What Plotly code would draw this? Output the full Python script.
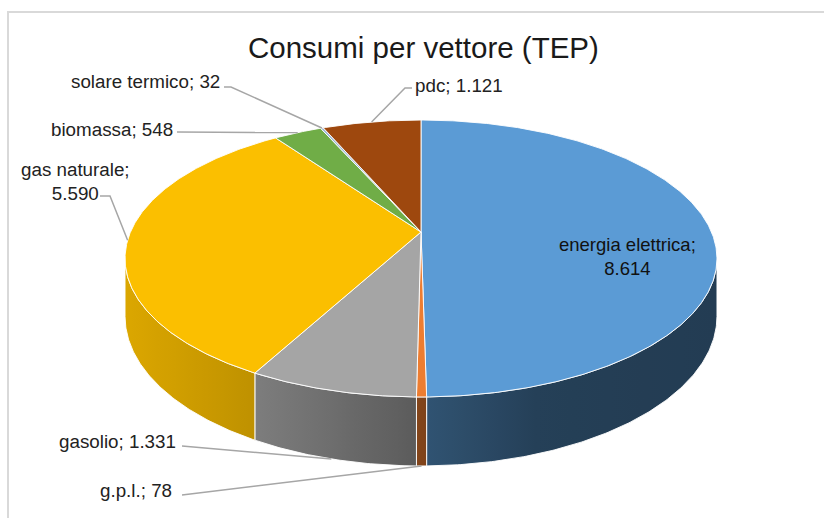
import numpy as np
import plotly.graph_objects as go

# Energy consumption by carrier (TEP), clockwise from 12 o'clock
categories = ["energia elettrica", "g.p.l.", "gasolio", "gas naturale",
              "biomassa", "solare termico", "pdc"]
values = [8614, 78, 1331, 5590, 548, 32, 1121]
colors = ["#5B9BD5", "#ED7D31", "#A5A5A5", "#FBBF00",
          "#70AD47", "#9DB8D6", "#9E480E"]

title_text = "Consumi per vettore (TEP)"

W, H_PX = 824, 518

# Perspective disc: centre, half-axes, perspective factor, thickness
CX, CY = 421.0, 232.0
RX, RY, K, DEPTH = 290.5, 133.4, 0.1913, 55.8


def proj(a_deg, bottom=False):
    a = np.radians(a_deg)
    u, v = np.sin(a), np.cos(a)
    w = 1 + K * v
    x = CX + RX * u / w
    y = CY - RY * v / w
    if bottom:
        y = y + DEPTH / w
    return x, y


def fmt(v):
    return f"{v:,}".replace(",", ".")


def hex_rgb(c):
    c = c.lstrip("#")
    return tuple(int(c[i:i + 2], 16) for i in (0, 2, 4))


def shade(c, f):
    r, g, b = hex_rgb(c)
    return f"rgb({int(r * f)},{int(g * f)},{int(b * f)})"


# side darkening by horizontal position
shade_x = [120, 258, 415, 425, 540, 720]
shade_f = [0.88, 0.76, 0.56, 0.54, 0.41, 0.39]

total = float(sum(values))
edges = np.concatenate([[0.0], np.cumsum(values) / total * 360.0])

vis0 = np.degrees(np.arccos(-K))
vis1 = 360.0 - vis0

fig = go.Figure()

# side walls
for i, c in enumerate(colors):
    s0, s1 = max(edges[i], vis0), min(edges[i + 1], vis1)
    if s0 >= s1:
        continue
    n = max(3, int((s1 - s0) / 0.5) + 2)
    aa = np.linspace(s0, s1, n)
    tx, ty = proj(aa)
    bx, by = proj(aa[::-1], bottom=True)
    xs = np.concatenate([tx, bx, tx[:1]])
    ys = np.concatenate([ty, by, ty[:1]])
    x0, x1 = xs.min(), xs.max()
    ts = np.linspace(0, 1, 9)
    cs = [[float(t), shade(c, float(np.interp(x0 + t * (x1 - x0), shade_x, shade_f)))]
          for t in ts]
    fig.add_trace(go.Scatter(
        x=xs, y=ys, mode="lines", fill="toself",
        fillgradient=dict(type="horizontal", colorscale=cs),
        line=dict(color="rgba(255,255,255,0.9)", width=1),
        hoverinfo="skip", showlegend=False))

# top faces
for i, c in enumerate(colors):
    a0, a1 = edges[i], edges[i + 1]
    n = max(3, int((a1 - a0) / 0.5) + 2)
    aa = np.linspace(a0, a1, n)
    ax, ay = proj(aa)
    xs = np.concatenate([[CX], ax, [CX]])
    ys = np.concatenate([[CY], ay, [CY]])
    fig.add_trace(go.Scatter(
        x=xs, y=ys, mode="lines", fill="toself", fillcolor=c,
        line=dict(color="rgba(255,255,255,0.9)", width=1),
        name=categories[i], hoverinfo="name", showlegend=False))

# data labels: text position, alignment, leader elbow points, leader end on lower rim?
label_pos = {
    "solare termico": dict(x=222, y=81, xa="right", path=[(224, 87), (231, 87)], bottom=False),
    "biomassa": dict(x=175, y=129, xa="right", path=[(177, 132)], bottom=False),
    "gas naturale": dict(x=75, y=181, xa="center", path=[(100, 196), (110, 196)], bottom=False),
    "pdc": dict(x=413, y=85, xa="left", path=[(412, 88), (405, 88)], bottom=False),
    "gasolio": dict(x=178, y=441, xa="right", path=[(182, 446)], bottom=True),
    "g.p.l.": dict(x=174, y=490, xa="right", path=[(182, 495)], bottom=True),
}

LABEL_FONT = dict(family="Liberation Sans, Arial, sans-serif", size=18.8, color="#222222")

for i, cat in enumerate(categories):
    mid = (edges[i] + edges[i + 1]) / 2
    if cat in label_pos:
        p = label_pos[cat]
        ex, ey = proj(mid, bottom=p["bottom"])
        px = [q[0] for q in p["path"]] + [float(ex)]
        py = [q[1] for q in p["path"]] + [float(ey)]
        fig.add_trace(go.Scatter(x=px, y=py, mode="lines",
                                 line=dict(color="#A6A6A6", width=1.5),
                                 hoverinfo="skip", showlegend=False))
        if cat == "gas naturale":
            txt = f"{cat};<br>{fmt(values[i])}"
        else:
            txt = f"{cat}; {fmt(values[i])}"
        fig.add_annotation(x=p["x"], y=p["y"], text=txt, showarrow=False,
                           xanchor=p["xa"], yanchor="middle", align="center",
                           font=LABEL_FONT)
    else:
        fig.add_annotation(x=627, y=256, text=f"{cat};<br>{fmt(values[i])}",
                           showarrow=False, xanchor="center", yanchor="middle",
                           align="center", font=dict(LABEL_FONT, size=18.5, color="#111111"))

fig.add_annotation(x=423, y=47, text=title_text, showarrow=False,
                   xanchor="center", yanchor="middle",
                   font=dict(family="Liberation Sans, Arial, sans-serif", size=29.5,
                             color="#1a1a1a"))

# chart area border (top and left edges visible)
fig.add_shape(type="rect", x0=8, y0=12, x1=840, y1=540,
              line=dict(color="#D9D9D9", width=2), layer="below")

fig.update_layout(
    width=W, height=H_PX,
    margin=dict(l=0, r=0, t=0, b=0),
    paper_bgcolor="white", plot_bgcolor="white",
    xaxis=dict(range=[0, W], visible=False, fixedrange=True),
    yaxis=dict(range=[H_PX, 0], visible=False, fixedrange=True),
    showlegend=False,
)

fig.write_html("out.html")
